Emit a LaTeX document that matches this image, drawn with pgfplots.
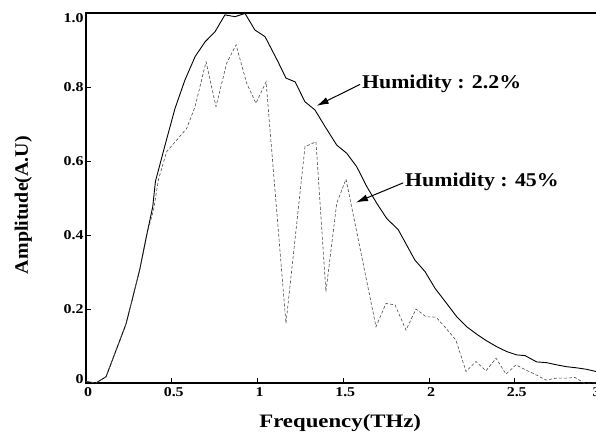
\documentclass[border=0pt]{standalone}
\usepackage{pgfplots}
\pgfplotsset{compat=1.18}
\usepackage{fontspec}
\setmainfont{Liberation Serif}
\usetikzlibrary{arrows.meta}
\newcommand\sx[1]{\scalebox{1.18}[1]{#1}}
\newcommand\tf{\fontsize{13.5bp}{16bp}\selectfont\bfseries}
\begin{document}
\begin{tikzpicture}
\begin{axis}[
  scale only axis, width=514.5bp, height=370bp,
  xmin=0, xmax=3, ymin=0, ymax=1,
  axis line style={line width=1.2bp},
  tick align=inside, xtick pos=bottom, ytick pos=left,
  major tick length=5bp, tick style={line width=0.8bp, black},
  xtick={0,0.5,1,1.5,2,2.5,3},
  xticklabels={\sx{0},\sx{0.5},\sx{1},\sx{1.5},\sx{2},\sx{2.5},\sx{3}\hspace*{12bp}},
  ytick={0,0.2,0.4,0.6,0.8,1},
  yticklabels={\sx{\raisebox{3.5bp}[\height][\depth]{0}},\sx{0.2},\sx{0.4},\sx{0.6},\sx{0.8},\sx{\raisebox{-5bp}[\height][\depth]{1.0}}},
  ticklabel style={font=\tf},
  xticklabel style={yshift=-1.5bp, xshift=2bp},
  yticklabel style={xshift=1bp},
  clip mode=individual,
]
\addplot[black, line width=0.9bp] coordinates {
(0,0.004) (0.058,0.0) (0.117,0.017) (0.233,0.159) (0.272,0.23) (0.315,0.31)
(0.354,0.40) (0.389,0.476) (0.405,0.545) (0.461,0.643) (0.519,0.742) (0.577,0.819)
(0.636,0.882) (0.694,0.922) (0.752,0.949) (0.810,0.995) (0.869,0.990) (0.927,0.999)
(0.985,0.954) (1.044,0.936) (1.12,0.868) (1.166,0.824) (1.219,0.814) (1.277,0.760)
(1.335,0.738) (1.394,0.693) (1.462,0.643) (1.520,0.621) (1.578,0.585) (1.637,0.531)
(1.695,0.486) (1.753,0.445) (1.821,0.414) (1.918,0.332) (1.977,0.301) (2.035,0.256)
(2.103,0.215) (2.162,0.179) (2.220,0.152) (2.278,0.132) (2.336,0.114) (2.395,0.098)
(2.453,0.085) (2.511,0.076) (2.56,0.074) (2.628,0.057) (2.686,0.055) (2.745,0.049)
(2.803,0.044) (2.861,0.041) (2.919,0.037) (2.974,0.031) (3.0,0.029)
};
\addplot[black!70, line width=0.6bp, dash pattern=on 3bp off 2bp] coordinates {
(0,0.004) (0.058,0.0) (0.117,0.017) (0.233,0.159) (0.272,0.23) (0.315,0.31)
(0.354,0.40) (0.395,0.47) (0.422,0.549) (0.47,0.625) (0.587,0.688) (0.636,0.747)
(0.70,0.868) (0.758,0.747) (0.82,0.864) (0.875,0.914) (0.937,0.81) (0.991,0.756)
(1.05,0.814) (1.166,0.161) (1.277,0.639) (1.341,0.652) (1.399,0.247) (1.462,0.486)
(1.516,0.551) (1.691,0.152) (1.749,0.215) (1.802,0.211) (1.866,0.143) (1.924,0.200)
(1.983,0.179) (2.041,0.178) (2.099,0.148) (2.157,0.116) (2.216,0.031) (2.274,0.058)
(2.332,0.033) (2.391,0.067) (2.449,0.024) (2.507,0.049) (2.566,0.035) (2.624,0.022)
(2.682,0.008) (2.741,0.013) (2.799,0.013) (2.851,0.015) (2.909,-0.001) (2.974,0.001)
(3.0,0.0)
};
\draw[-{Latex[length=12bp,width=7bp]}, line width=1bp] (axis cs:1.598,0.807) -- (axis cs:1.345,0.749);
\draw[-{Latex[length=12bp,width=7bp]}, line width=1bp] (axis cs:1.850,0.541) -- (axis cs:1.574,0.488);
\node[anchor=base west, inner sep=0] at (axis cs:1.609,0.795)
  {\fontsize{19.5bp}{22bp}\selectfont\bfseries\scalebox{1.12}[1]{Humidity : 2.2\%}};
\node[anchor=base west, inner sep=0] at (axis cs:1.860,0.532)
  {\fontsize{19.5bp}{22bp}\selectfont\bfseries\scalebox{1.12}[1]{Humidity : 45\%}};
\node[anchor=base, inner sep=0] at ([yshift=-44bp]axis description cs:0.494,0)
  {\fontsize{19bp}{22bp}\selectfont\bfseries\scalebox{1.2}[1]{Frequency(THz)}};
\node[anchor=base, rotate=90, inner sep=0] at ([xshift=-58bp]axis description cs:0,0.481)
  {\fontsize{19bp}{22bp}\selectfont\bfseries\scalebox{1.05}[1]{Amplitude(A.U)}};
\end{axis}
\pgfresetboundingbox
\path[use as bounding box] ([shift={(-86bp,-49bp)}]current axis.south west) rectangle ([shift={(-4.5bp,13bp)}]current axis.north east);
\end{tikzpicture}
\end{document}
